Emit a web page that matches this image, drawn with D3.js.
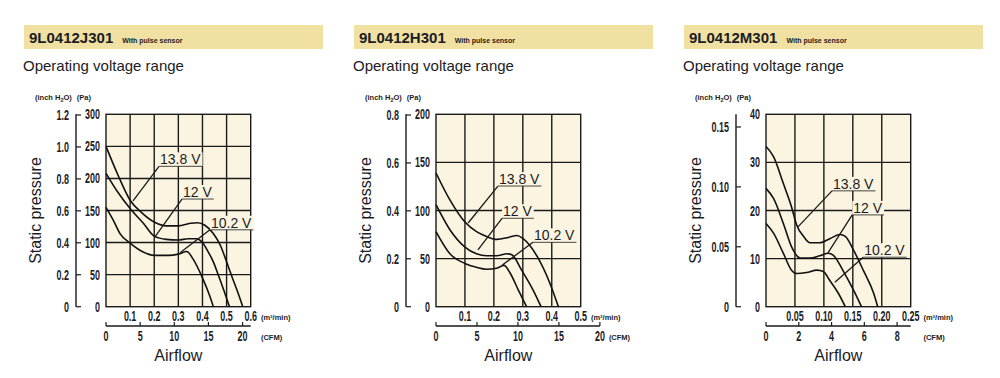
<!DOCTYPE html>
<html>
<head>
<meta charset="utf-8">
<script src="https://cdn.jsdelivr.net/npm/d3@7/dist/d3.min.js"></script>
<style>
  html, body { margin: 0; padding: 0; background: #fff; }
  svg { display: block; }
  text { font-family: 'Liberation Sans', Arial, sans-serif; fill: #1c1c24; }
  .num { font-weight: bold; font-size: 14px; }
</style>
</head>
<body>
<svg id="chart" width="1000" height="378"></svg>
<script>
const voltages = ['13.8 V', '12 V', '10.2 V'];

// 9L0412J301 : [airflow m3/min, static pressure Pa]
const j301_138 = [[0, 250], [0.05, 205], [0.1, 166], [0.15, 146], [0.2, 132], [0.25, 126], [0.3, 126], [0.35, 130], [0.38, 131], [0.41, 127], [0.445, 114], [0.475, 95], [0.5, 70], [0.525, 44], [0.545, 24], [0.567, 0]];
const j301_120 = [[0, 208], [0.05, 178], [0.1, 153], [0.155, 130], [0.2, 110], [0.25, 105], [0.3, 104], [0.34, 106], [0.375, 106], [0.4, 100], [0.42, 88], [0.445, 70], [0.47, 45], [0.49, 24], [0.512, 0]];
const j301_102 = [[0, 155], [0.03, 135], [0.058, 114], [0.1, 99], [0.15, 86], [0.2, 80], [0.26, 80], [0.3, 82], [0.335, 86], [0.36, 75], [0.4, 45], [0.43, 17], [0.445, 0]];

// 9L0412H301
const h301_138 = [[0, 139], [0.048, 111], [0.1, 88], [0.14, 78], [0.175, 73], [0.21, 70], [0.25, 72], [0.28, 74], [0.3, 71], [0.35, 52], [0.39, 27], [0.423, 0]];
const h301_120 = [[0, 106], [0.048, 80], [0.1, 62], [0.14, 55], [0.175, 53], [0.21, 53], [0.245, 55], [0.262, 54], [0.296, 38], [0.336, 17], [0.363, 0]];
const h301_102 = [[0, 78], [0.048, 55], [0.1, 45], [0.14, 41], [0.175, 39], [0.21, 40], [0.235, 43], [0.256, 35], [0.285, 17], [0.313, 0]];

// 9L0412M301
const m301_138 = [[0, 33.3], [0.013, 31.2], [0.03, 25.6], [0.044, 20.8], [0.053, 17], [0.065, 14.6], [0.076, 13.3], [0.093, 13.3], [0.111, 14.2], [0.128, 15], [0.137, 14.6], [0.151, 11.8], [0.168, 7.6], [0.186, 2.8], [0.193, 0]];
const m301_120 = [[0, 24.6], [0.013, 22.5], [0.03, 17.3], [0.044, 12.5], [0.059, 10.1], [0.076, 10.1], [0.093, 10.6], [0.108, 11.1], [0.116, 10.7], [0.134, 7.3], [0.151, 3.5], [0.165, 0]];
const m301_102 = [[0, 17.3], [0.013, 15.3], [0.03, 11.1], [0.044, 7.6], [0.053, 6.9], [0.07, 7.1], [0.088, 7.6], [0.099, 7.3], [0.11, 5.5], [0.125, 2.8], [0.137, 0]];

// axis ticks
const j301PaTicks = [0, 50, 100, 150, 200, 250, 300];
const j301InchTicks = [0, 0.2, 0.4, 0.6, 0.8, 1.0, 1.2];
const j301FlowTicks = [0.1, 0.2, 0.3, 0.4, 0.5, 0.6];
const j301CfmTicks = [0, 5, 10, 15, 20];

const h301PaTicks = [0, 50, 100, 150, 200];
const h301InchTicks = [0, 0.2, 0.4, 0.6, 0.8];
const h301FlowTicks = [0.1, 0.2, 0.3, 0.4, 0.5];
const h301CfmTicks = [0, 5, 10, 15, 20];

const m301PaTicks = [0, 10, 20, 30, 40];
const m301InchTicks = [0, 0.05, 0.1, 0.15];
const m301FlowTicks = [0.05, 0.1, 0.15, 0.2, 0.25];
const m301CfmTicks = [0, 2, 4, 6, 8];

const CFM_PER_M3 = 35.315;
const PA_PER_INCH = 249.1;

const panels = [
  {
    model: '9L0412J301', dx: 0,
    curves: [j301_138, j301_120, j301_102],
    paTicks: j301PaTicks, inchTicks: j301InchTicks, inchFmt: d3.format('.1f'),
    flowTicks: j301FlowTicks, flowFmt: d3.format('.1f'), cfmTicks: j301CfmTicks,
    // label anchor and leader target, in data units
    notes: [{ at: [0.22, 222], to: [0.112, 165] }, { at: [0.315, 171], to: [0.203, 109] }, { at: [0.431, 123], to: [0.307, 84] }]
  },
  {
    model: '9L0412H301', dx: 330,
    curves: [h301_138, h301_120, h301_102],
    paTicks: h301PaTicks, inchTicks: h301InchTicks, inchFmt: d3.format('.1f'),
    flowTicks: h301FlowTicks, flowFmt: d3.format('.1f'), cfmTicks: h301CfmTicks,
    notes: [{ at: [0.214, 127.5], to: [0.111, 87] }, { at: [0.228, 94], to: [0.145, 59] }, { at: [0.335, 69], to: [0.228, 43] }]
  },
  {
    model: '9L0412M301', dx: 660,
    curves: [m301_138, m301_120, m301_102],
    paTicks: m301PaTicks, inchTicks: m301InchTicks, inchFmt: d3.format('.2f'),
    flowTicks: m301FlowTicks, flowFmt: d3.format('.2f'), cfmTicks: m301CfmTicks,
    notes: [{ at: [0.114, 24.5], to: [0.0553, 16.6] }, { at: [0.149, 19.5], to: [0.107, 11.2] }, { at: [0.168, 10.7], to: [0.119, 5.1] }]
  }
];

const plotFill = '#faf4e0';
const ink = '#1a1a1a';
const squeeze = 0.64;
const svg = d3.select('#chart');

// numbers drawn squeezed horizontally, the original uses a condensed face
function numLabels(parent, data, px, py, anchor, fmt) {
  return parent.append('g').selectAll('text').data(data).join('text').attr('class', 'num')
    .attr('text-anchor', anchor)
    .attr('transform', (d) => `translate(${px(d)},${py(d)}) scale(${squeeze},1)`)
    .text(fmt);
}

function drawPanel(p) {
  const g = svg.append('g').attr('transform', `translate(${p.dx},0)`);

  // header band
  g.append('rect').attr('x', 24).attr('y', 25).attr('width', 299).attr('height', 24).attr('fill', '#f0e1a2');
  const title = g.append('text').attr('x', 29).attr('y', 43)
    .style('font-size', '15px').style('font-weight', 'bold').attr('fill', '#111')
    .text(p.model);
  const tw = title.node().getComputedTextLength();
  g.append('text').attr('x', 29 + tw + 9).attr('y', 43)
    .style('font-size', '7px').style('font-weight', 'bold').attr('fill', '#222')
    .text('With pulse sensor');

  g.append('text').attr('x', 23).attr('y', 71).style('font-size', '15px').text('Operating voltage range');

  const left = 106, right = 250.7, top = 114.3, bottom = 306.7;
  const xMax = p.flowTicks[p.flowTicks.length - 1];
  const yMax = p.paTicks[p.paTicks.length - 1];
  const x = d3.scaleLinear().domain([0, xMax]).range([left, right]);
  const y = d3.scaleLinear().domain([0, yMax]).range([bottom, top]);

  // plot area + grid
  g.append('rect').attr('x', left).attr('y', top).attr('width', right - left).attr('height', bottom - top)
    .attr('fill', plotFill);
  g.append('g').selectAll('line').data(p.flowTicks.slice(0, -1)).join('line')
    .attr('x1', (d) => x(d)).attr('x2', (d) => x(d)).attr('y1', top).attr('y2', bottom)
    .attr('stroke', ink).attr('stroke-width', 1.4);
  g.append('g').selectAll('line').data(p.paTicks.slice(1, -1)).join('line')
    .attr('x1', left).attr('x2', right).attr('y1', (d) => y(d)).attr('y2', (d) => y(d))
    .attr('stroke', ink).attr('stroke-width', 1.4);
  g.append('rect').attr('x', left).attr('y', top).attr('width', right - left).attr('height', bottom - top)
    .attr('fill', 'none').attr('stroke', ink).attr('stroke-width', 1.4);

  // Pa labels
  numLabels(g, p.paTicks, () => 100, (d) => y(d) + 5, 'end', (d) => d);

  // inch H2O axis
  const ax = 76;
  g.append('line').attr('x1', ax).attr('x2', ax).attr('y1', top).attr('y2', bottom)
    .attr('stroke', ink).attr('stroke-width', 1.4);
  g.append('g').selectAll('line').data(p.inchTicks).join('line')
    .attr('x1', ax).attr('x2', ax + 5)
    .attr('y1', (d) => y(d * PA_PER_INCH)).attr('y2', (d) => y(d * PA_PER_INCH))
    .attr('stroke', ink).attr('stroke-width', 1.2);
  numLabels(g, p.inchTicks, () => 69, (d) => y(d * PA_PER_INCH) + 5, 'end',
    (d) => (d === 0 ? '0' : p.inchFmt(d)));

  const unitTop = g.append('text').attr('x', 35).attr('y', 100).style('font-size', '7.5px').style('font-weight', 'bold');
  unitTop.append('tspan').text('(inch H');
  unitTop.append('tspan').attr('dy', 2).style('font-size', '5.5px').text('2');
  unitTop.append('tspan').attr('dy', -2).text('O)');
  unitTop.append('tspan').attr('dx', 5).text('(Pa)');

  g.append('text').attr('transform', `translate(41,${(top + bottom) / 2}) rotate(-90)`)
    .attr('text-anchor', 'middle').style('font-size', '16px').text('Static pressure');

  // m3/min labels
  const flowLabels = numLabels(g, p.flowTicks, (d) => x(d), () => 321, 'middle', (d) => p.flowFmt(d));
  const lastFlowNode = flowLabels.nodes()[flowLabels.size() - 1];
  const unitX = x(xMax) + lastFlowNode.getComputedTextLength() * squeeze / 2 + 4;
  g.append('text').attr('x', unitX).attr('y', 320).style('font-size', '7.5px').style('font-weight', 'bold')
    .text('(m³/min)');

  // CFM axis
  const cfmX = (c) => x(c / CFM_PER_M3);
  const lastCfm = p.cfmTicks[p.cfmTicks.length - 1];
  const lineEnd = Math.max(right, cfmX(lastCfm));
  g.append('line').attr('x1', left).attr('x2', lineEnd).attr('y1', 326).attr('y2', 326)
    .attr('stroke', ink).attr('stroke-width', 1.4);
  g.append('g').selectAll('line').data(p.cfmTicks).join('line')
    .attr('x1', cfmX).attr('x2', cfmX).attr('y1', 326).attr('y2', 322)
    .attr('stroke', ink).attr('stroke-width', 1.2);
  const cfmLabels = numLabels(g, p.cfmTicks, cfmX, () => 341, 'middle', (d) => d);
  const lastCfmNode = cfmLabels.nodes()[cfmLabels.size() - 1];
  const cfmUnitX = Math.max(unitX, cfmX(lastCfm) + lastCfmNode.getComputedTextLength() * squeeze / 2 + 4);
  g.append('text').attr('x', cfmUnitX).attr('y', 340).style('font-size', '7.5px')
    .style('font-weight', 'bold').text('(CFM)');

  g.append('text').attr('x', (left + right) / 2).attr('y', 361).attr('text-anchor', 'middle')
    .style('font-size', '16px').text('Airflow');

  // curves
  const line = d3.line().x((d) => x(d[0])).y((d) => y(d[1])).curve(d3.curveMonotoneX);
  g.append('g').selectAll('path').data(p.curves).join('path')
    .attr('d', line).attr('fill', 'none').attr('stroke', '#111').attr('stroke-width', 1.6);

  // voltage labels with leaders
  p.notes.forEach((n, i) => {
    const lx = x(n.at[0]);
    const ly = y(n.at[1]);
    const t = g.append('text').attr('x', lx + 1).attr('y', ly).style('font-size', '14px').text(voltages[i]);
    const w = t.node().getComputedTextLength();
    g.insert('rect', () => t.node()).attr('x', lx).attr('y', ly - 12).attr('width', w + 3).attr('height', 14)
      .attr('fill', plotFill);
    g.append('line').attr('x1', lx).attr('x2', lx + w + 3).attr('y1', ly + 2).attr('y2', ly + 2)
      .attr('stroke', ink).attr('stroke-width', 0.8);
    g.append('line').attr('x1', lx).attr('y1', ly + 2).attr('x2', x(n.to[0])).attr('y2', y(n.to[1]))
      .attr('stroke', ink).attr('stroke-width', 1.3);
  });
}

panels.forEach(drawPanel);
</script>
</body>
</html>
